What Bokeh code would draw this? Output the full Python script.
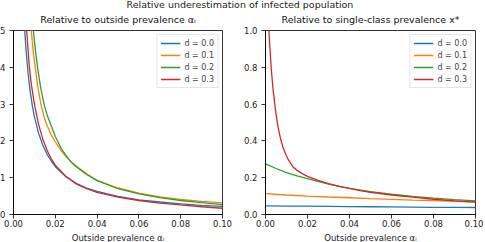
from bokeh.plotting import figure
from bokeh.models import (Legend, LegendItem, FixedTicker, NumeralTickFormatter,
                          Div, Range1d)
from bokeh.layouts import column, row
from bokeh.embed import file_html
from bokeh.resources import INLINE

FONT = "DejaVu Sans"
COLORS = ["#1f77b4", "#ff7f0e", "#2ca02c", "#d62728"]
LABELS = ["d = 0.0", "d = 0.1", "d = 0.2", "d = 0.3"]

# ---- Left panel: relative to outside prevalence ----
alpha_l_d0 = [0.0045, 0.005, 0.0055, 0.006, 0.007, 0.008, 0.009, 0.010, 0.012, 0.014, 0.016,
              0.018, 0.020, 0.025, 0.030, 0.035, 0.040, 0.050, 0.060, 0.070, 0.080, 0.090, 0.100]
rel_out_d0 = [5.97, 5.37, 4.88, 4.47, 3.82, 3.34, 2.96, 2.66, 2.21, 1.89, 1.64,
              1.46, 1.30, 1.03, 0.85, 0.72, 0.63, 0.49, 0.40, 0.34, 0.29, 0.25, 0.22]

alpha_l_d1 = [0.0078, 0.0085, 0.0095, 0.0104, 0.0117, 0.0131, 0.015, 0.0161, 0.018, 0.020, 0.023,
              0.026, 0.028, 0.030, 0.035, 0.040, 0.050, 0.060, 0.070, 0.080, 0.090, 0.100]
rel_out_d1 = [5.6, 5.0, 4.4, 4.0, 3.45, 3.0, 2.58, 2.42, 2.17, 1.97, 1.72,
              1.52, 1.41, 1.32, 1.10, 0.93, 0.72, 0.58, 0.48, 0.41, 0.355, 0.315]

alpha_l_d2 = [0.0088, 0.0095, 0.0105, 0.0115, 0.013, 0.0146, 0.016, 0.018, 0.020, 0.023, 0.026,
              0.028, 0.030, 0.035, 0.040, 0.050, 0.060, 0.070, 0.080, 0.090, 0.100]
rel_out_d2 = [5.6, 5.0, 4.45, 4.0, 3.45, 3.0, 2.72, 2.42, 2.12, 1.78, 1.53,
              1.40, 1.30, 1.09, 0.92, 0.70, 0.56, 0.46, 0.38, 0.32, 0.27]

alpha_l_d3 = [0.0052, 0.0058, 0.0063, 0.007, 0.0076, 0.0085, 0.010, 0.012, 0.014, 0.016, 0.018,
              0.020, 0.025, 0.030, 0.035, 0.040, 0.050, 0.060, 0.070, 0.080, 0.090, 0.100]
rel_out_d3 = [6.0, 5.45, 5.0, 4.45, 4.0, 3.55, 3.0, 2.45, 2.05, 1.75, 1.52,
              1.34, 1.04, 0.83, 0.70, 0.60, 0.47, 0.38, 0.31, 0.26, 0.21, 0.17]

# ---- Right panel: relative to single-class prevalence ----
alpha_r_d0 = [0.0, 0.01, 0.02, 0.03, 0.04, 0.05, 0.06, 0.07, 0.08, 0.09, 0.10]
rel_single_d0 = [0.047, 0.046, 0.045, 0.044, 0.043, 0.042, 0.041, 0.040, 0.039, 0.0385, 0.038]

alpha_r_d1 = [0.0, 0.01, 0.02, 0.03, 0.04, 0.05, 0.06, 0.07, 0.08, 0.09, 0.10]
rel_single_d1 = [0.113, 0.106, 0.100, 0.095, 0.091, 0.086, 0.082, 0.078, 0.075, 0.072, 0.069]

alpha_r_d2 = [0.0, 0.005, 0.01, 0.015, 0.02, 0.03, 0.04, 0.05, 0.06, 0.07, 0.08, 0.09, 0.10]
rel_single_d2 = [0.275, 0.25, 0.228, 0.21, 0.195, 0.165, 0.142, 0.124, 0.110, 0.099, 0.089, 0.081, 0.074]

alpha_r_d3 = [0.0012, 0.0016, 0.0022, 0.0027, 0.0035, 0.0044, 0.0052, 0.006, 0.007, 0.0082, 0.0095,
              0.011, 0.013, 0.015, 0.0175, 0.02, 0.025, 0.03, 0.035, 0.04, 0.045, 0.05, 0.06,
              0.07, 0.08, 0.09, 0.10]
rel_single_d3 = [1.08, 1.0, 0.89, 0.80, 0.69, 0.60, 0.53, 0.475, 0.42, 0.37, 0.33,
                 0.295, 0.26, 0.24, 0.222, 0.207, 0.185, 0.168, 0.153, 0.142, 0.130, 0.121, 0.106,
                 0.094, 0.083, 0.074, 0.067]

x_ticks = [0.0, 0.02, 0.04, 0.06, 0.08, 0.10]
y_ticks_left = [0, 1, 2, 3, 4, 5]
y_ticks_right = [0.0, 0.2, 0.4, 0.6, 0.8, 1.0]

SUPTITLE = "Relative underestimation of infected population"
TITLE_L = "Relative to outside prevalence \u03b1\u1d62"
TITLE_R = "Relative to single-class prevalence x*"
XLABEL = "Outside prevalence \u03b1\u1d62"


def make_fig(title, width, left_border, right_border, ymax, yticks, yfmt):
    p = figure(width=width, height=240, output_backend="svg", toolbar_location=None,
               x_range=Range1d(0, 0.1), y_range=Range1d(0, ymax),
               min_border_left=left_border, min_border_right=right_border,
               min_border_top=19, min_border_bottom=27, margin=0)
    p.title.text = title
    p.title.align = "center"
    p.title.text_font = FONT
    p.title.text_font_size = "9.5px"
    p.title.text_font_style = "normal"
    p.title.text_color = "#111111"
    p.title.standoff = 12
    p.grid.visible = False
    p.outline_line_color = "black"
    p.outline_line_width = 0.8
    p.background_fill_color = "white"
    p.border_fill_alpha = 0.0
    for ax in (p.xaxis[0], p.yaxis[0]):
        ax.axis_line_color = "black"
        ax.axis_line_width = 0.8
        ax.major_tick_line_color = "black"
        ax.major_tick_line_width = 0.8
        ax.major_tick_out = 4
        ax.major_tick_in = 0
        ax.minor_tick_line_color = None
        ax.major_label_text_font = FONT
        ax.major_label_text_font_size = "8.5px"
        ax.major_label_text_color = "#222222"
    p.yaxis.major_label_standoff = 4
    p.xaxis.major_label_standoff = 1
    p.xaxis.ticker = FixedTicker(ticks=x_ticks)
    p.xaxis.formatter = NumeralTickFormatter(format="0.00")
    p.yaxis.ticker = FixedTicker(ticks=yticks)
    p.yaxis.formatter = NumeralTickFormatter(format=yfmt)
    p.xaxis.axis_label = XLABEL
    p.xaxis.axis_label_text_font = FONT
    p.xaxis.axis_label_text_font_size = "8.5px"
    p.xaxis.axis_label_text_font_style = "normal"
    p.xaxis.axis_label_text_color = "#222222"
    p.xaxis.axis_label_standoff = 3
    return p


def add_lines(p, xs, ys):
    items = []
    for x, y, c, lab in zip(xs, ys, COLORS, LABELS):
        r = p.line(x, y, line_color=c, line_width=1.3)
        items.append(LegendItem(label=lab, renderers=[r]))
    leg = Legend(items=items, location="top_right",
                 label_text_font=FONT, label_text_font_size="8px",
                 label_height=10, glyph_height=10, glyph_width=20,
                 label_standoff=4, spacing=2, padding=3, margin=4,
                 border_line_color="#cccccc", border_line_width=0.8,
                 background_fill_alpha=0.9)
    p.add_layout(leg)


p1 = make_fig(TITLE_L, 243, 14, 18, 5, y_ticks_left, "0")
add_lines(p1, [alpha_l_d0, alpha_l_d1, alpha_l_d2, alpha_l_d3],
          [rel_out_d0, rel_out_d1, rel_out_d2, rel_out_d3])

p2 = make_fig(TITLE_R, 243, 25, 8, 1.0, y_ticks_right, "0.0")
add_lines(p2, [alpha_r_d0, alpha_r_d1, alpha_r_d2, alpha_r_d3],
          [rel_single_d0, rel_single_d1, rel_single_d2, rel_single_d3])

title_div = Div(text=SUPTITLE, width=486, height=11, margin=0,
                styles={"font-family": FONT, "font-size": "9.5px", "text-align": "center",
                        "line-height": "21px", "color": "#222222", "width": "486px",
                        "overflow": "visible"})

layout = column(title_div, row(p1, p2, margin=0, spacing=0),
                margin=(-6, 0, -12, -3), spacing=0)

open("out.html", "w").write(file_html(layout, INLINE))
